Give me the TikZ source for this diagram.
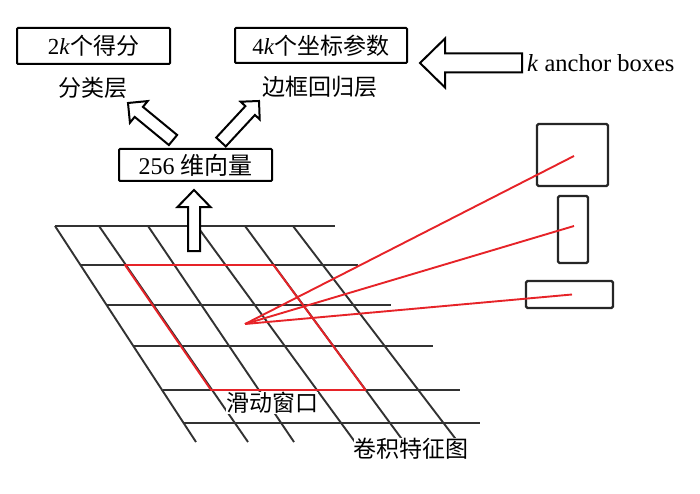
\documentclass[tikz,border=0pt]{standalone}
\usepackage{fontspec}
\setmainfont{Liberation Serif}
\newfontfamily\cjk{Noto Sans CJK SC}
\usetikzlibrary{calc}
\definecolor{myred}{RGB}{230,35,40}
\definecolor{gridc}{RGB}{50,50,50}
% #1 name, #2 tail, #3 tip, #4 shaft half width, #5 head half width, #6 head length
\newcommand\harrow[6]{%
  \coordinate (#1-h) at ($(#3)!#6!(#2)$);
  \draw[harr] ($(#2)!#4!90:(#3)$) -- ($(#1-h)!#4!-90:(#2)$) -- ($(#1-h)!#5!-90:(#2)$)
    -- (#3) -- ($(#1-h)!#5!90:(#2)$) -- ($(#1-h)!#4!90:(#2)$) -- ($(#2)!#4!-90:(#3)$) -- cycle;
}
\begin{document}
\begin{tikzpicture}[x=1pt,y=-1pt,
  box/.style={draw=black, line width=2pt, rounded corners=1pt, inner sep=0pt,
    font=\fontsize{23}{26}\selectfont},
  lbl/.style={inner sep=0pt, font=\cjk\fontsize{23}{26}\selectfont},
  gridline/.style={draw=gridc, line width=1.9pt},
  redline/.style={draw=myred, line width=1.9pt},
  harr/.style={draw=black, line width=2pt, fill=white, line join=miter},
  anc/.style={draw=black!85, line width=2.2pt, rounded corners=1.5pt, inner sep=0pt}
]
\useasboundingbox (0,0) rectangle (700,494);

% top boxes and labels
\node[box, minimum width=153pt, minimum height=36pt] (cls) at (93.5,46) {2\textit{k}{\cjk 个得分}};
\node[box, minimum width=172pt, minimum height=35pt] (reg) at (321,45.5) {4\textit{k}{\cjk 个坐标参数}};
\node[box, minimum width=153pt, minimum height=32pt, font=\fontsize{24}{26}\selectfont] (vec) at (195.5,165) {256 {\cjk 维向量}};
\node[lbl] (clsl) at (93,88) {分类层};
\node[lbl] (regl) at (320,87) {边框回归层};
\node[anchor=base west, inner sep=0pt, font=\fontsize{24.5}{26}\selectfont] (anch) at (527,72) {\textit{k} anchor boxes};

% grid
\foreach \i/\xa/\xb/\y in {1/55/335/226, 2/80/358/265, 3/107/391/305, 4/134/433/346, 5/163/460/390, 6/184/480/423}{
  \coordinate (ha\i) at (\xa,\y);
  \coordinate (hb\i) at (\xb,\y);
  \draw[gridline] (ha\i) -- (hb\i);
}
\foreach \i/\xa/\xb in {1/55/196, 2/99/248, 3/148/294, 4/197/355, 5/245/404, 6/293/458}{
  \coordinate (sa\i) at (\xa,226);
  \coordinate (sb\i) at (\xb,442);
  \draw[gridline] (sa\i) -- (sb\i);
}

% sliding window
\coordinate (w1) at (125,265);
\coordinate (w2) at (273.5,265);
\coordinate (w3) at (365.5,390);
\coordinate (w4) at (211,390);
\draw[redline, line join=round] (w1) -- (w2) -- (w3) -- (w4) -- cycle;

% anchor boxes
\node[anc, minimum width=71pt, minimum height=62pt] (sq) at (572.5,155) {};
\node[anc, minimum width=30pt, minimum height=67pt] (tall) at (573,229.5) {};
\node[anc, minimum width=87pt, minimum height=27pt] (wide) at (569.5,294.5) {};

% rays
\coordinate (c) at (245,324);
\draw[redline] (c) -- ([xshift=1.5pt,yshift=-1pt]sq.center);
\draw[redline] (c) -- ([xshift=1pt,yshift=3.5pt]tall.center);
\draw[redline] (c) -- ([xshift=2.5pt]wide.center);

% hollow arrows
\coordinate (la-t) at (173,140); \coordinate (la-p) at (128,103);
\coordinate (ra-t) at (221,142); \coordinate (ra-p) at (259,101);
\coordinate (ua-t) at (194,251); \coordinate (ua-p) at (194,190);
\coordinate (ba-t) at (522,63);  \coordinate (ba-p) at (420,63);
\harrow{la}{la-t}{la-p}{6.5pt}{14pt}{14pt}
\harrow{ra}{ra-t}{ra-p}{6.5pt}{13pt}{13pt}
\harrow{ua}{ua-t}{ua-p}{6pt}{16.5pt}{17pt}
\harrow{ba}{ba-t}{ba-p}{9.5pt}{24.5pt}{25pt}

% bottom labels
\node[lbl, fill=white] (win) at (272,403) {滑动窗口};
\node[lbl, fill=white] (fmap) at (411,449) {卷积特征图};
\end{tikzpicture}
\end{document}
